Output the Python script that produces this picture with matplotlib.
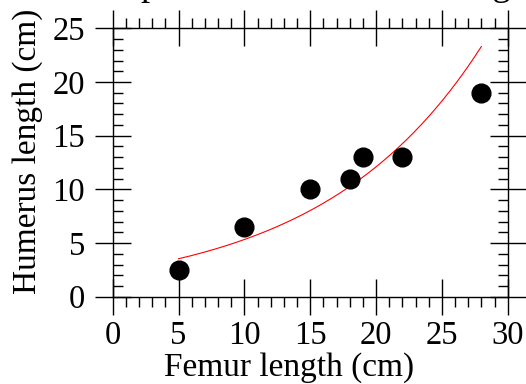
import numpy as np
import matplotlib
matplotlib.use("Agg")
import matplotlib.pyplot as plt
from matplotlib.ticker import MultipleLocator

# Bone measurements (cm)
femur = [5, 10, 15, 18, 19, 22, 28]
humerus = [2.5, 6.5, 10, 11, 13, 13, 19]
x_ticks = [0, 5, 10, 15, 20, 25, 30]
y_ticks = [0, 5, 10, 15, 20, 25]
title = "Exponential fit to bone length"

plt.rcParams["font.family"] = ["Liberation Serif", "DejaVu Serif"]

fig = plt.figure(figsize=(5.26, 3.84), dpi=100)
ax = fig.add_axes([0.2143, 0.2273, 0.7509, 0.6990])

# exponential fit y = a * exp(b x) via log-linear least squares
b, log_a = np.polyfit(femur, np.log(humerus), 1)
xf = np.linspace(min(femur), max(femur), 200)
ax.plot(xf, np.exp(log_a) * np.exp(b * xf), color="red", lw=0.8, zorder=2)

ax.plot(femur, humerus, "o", color="black", ms=13.5, zorder=3)

ax.set_xlim(0, 30)
ax.set_ylim(0, 25)
ax.set_xticks(x_ticks)
ax.set_yticks(y_ticks)
ax.xaxis.set_minor_locator(MultipleLocator(1))
ax.yaxis.set_minor_locator(MultipleLocator(1))

for s in ax.spines.values():
    s.set_linewidth(1.0)

ax.tick_params(which="major", direction="inout", length=26, width=1.0,
               top=True, right=True, labelsize=23.5)
ax.tick_params(axis="x", which="major", pad=4)
ax.tick_params(axis="y", which="major", pad=7)
ax.tick_params(axis="x", which="minor", direction="out", length=7.5, width=1.0,
               top=True, bottom=True)
ax.tick_params(axis="y", which="minor", direction="in", length=7.5, width=1.0,
               left=True, right=True)

ax.set_xlabel("Femur length (cm)", fontsize=24)
ax.set_ylabel("Humerus length (cm)", fontsize=24)
ax.xaxis.set_label_coords(0.446, -0.206)
ax.yaxis.set_label_coords(-0.176, 0.54)

fig.text(0.607, 1.014, title, fontsize=26.5, ha="center", va="baseline")

fig.savefig("out.png", dpi=100)
